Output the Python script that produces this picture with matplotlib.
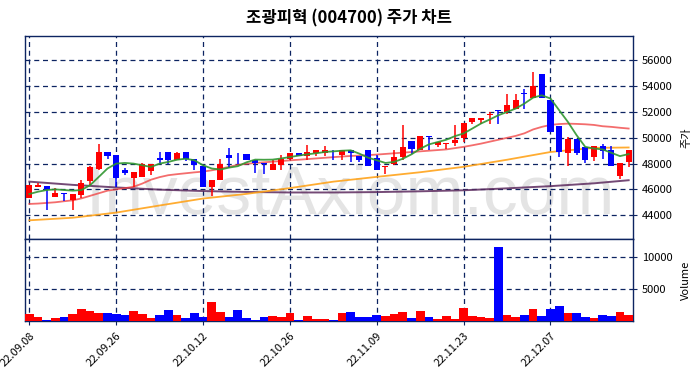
import numpy as np
import matplotlib
matplotlib.use("Agg")
import matplotlib.pyplot as plt

plt.rcParams['font.family'] = ['Noto Sans CJK KR', 'DejaVu Sans']

# trading days shown (22.09.08 ~ 22.12.20)
dates = ['22.09.08', '22.09.13', '22.09.14', '22.09.15', '22.09.16', '22.09.19', '22.09.20',
         '22.09.21', '22.09.22', '22.09.23', '22.09.26', '22.09.27', '22.09.28', '22.09.29',
         '22.09.30', '22.10.04', '22.10.05', '22.10.06', '22.10.07', '22.10.11', '22.10.12',
         '22.10.13', '22.10.14', '22.10.17', '22.10.18', '22.10.19', '22.10.20', '22.10.21',
         '22.10.24', '22.10.25', '22.10.26', '22.10.27', '22.10.28', '22.10.31', '22.11.01',
         '22.11.02', '22.11.03', '22.11.04', '22.11.07', '22.11.08', '22.11.09', '22.11.10',
         '22.11.11', '22.11.14', '22.11.15', '22.11.16', '22.11.17', '22.11.18', '22.11.21',
         '22.11.22', '22.11.23', '22.11.24', '22.11.25', '22.11.28', '22.11.29', '22.11.30',
         '22.12.01', '22.12.02', '22.12.05', '22.12.06', '22.12.07', '22.12.08', '22.12.09',
         '22.12.12', '22.12.13', '22.12.14', '22.12.15', '22.12.16', '22.12.19', '22.12.20']

opens = [45300, 46200, 46280, 45440, 45740, 45180, 45560, 46640, 47560, 48870,
         48670, 47510, 46920, 46970, 47440, 48460, 48900, 48310, 48900, 48380,
         47800, 46200, 46720, 48640, 48770, 48770, 48260, 48080, 47490, 47870,
         48380, 48850, 48590, 48850, 48850, 49080, 48640, 49030, 48560, 49030,
         48460, 47740, 48000, 48510, 49740, 49080, 50180, 49460, 49540, 49560,
         49950, 51240, 51420, 51750, 52140, 52010, 52270, 53510, 53120, 54930,
         52970, 50900, 48840, 49870, 49250, 48530, 49350, 49040, 47030, 48140]
highs = [46330, 46460, 46280, 46130, 45740, 45620, 46720, 47800, 49540, 48870,
         48670, 47670, 47360, 48050, 48000, 48900, 48900, 48900, 48900, 48380,
         47800, 46720, 48380, 49230, 48820, 48770, 48260, 48080, 48260, 48640,
         48850, 48850, 49410, 49030, 49330, 49080, 49030, 49030, 48560, 49030,
         48640, 47850, 49030, 51030, 49740, 50180, 50180, 49670, 49590, 50980,
         51160, 51500, 51570, 52010, 52140, 53430, 53430, 53820, 55110, 54930,
         52970, 50900, 50030, 49870, 49250, 49350, 49510, 49350, 48010, 49050]
lows = [45300, 46150, 44400, 45440, 45100, 44410, 45300, 46330, 47490, 48380,
        46200, 47150, 46200, 46970, 47100, 48000, 48000, 48310, 48200, 47540,
        46200, 45510, 46720, 47690, 48000, 48310, 47300, 47180, 47490, 47540,
        48310, 48590, 48310, 48560, 48560, 48310, 48310, 48130, 48130, 47800,
        47540, 47180, 47870, 48260, 48770, 49080, 49030, 49280, 49150, 49350,
        49690, 51060, 51060, 51110, 51060, 51880, 52270, 52270, 53120, 53120,
        50460, 48480, 47800, 48660, 48060, 48220, 48320, 47800, 46770, 47750]
closes = [46330, 46330, 45950, 45690, 45620, 45620, 46510, 47740, 48900, 48590,
          46920, 47280, 47360, 48000, 48000, 48310, 48310, 48850, 48360, 47920,
          46200, 46720, 48000, 48460, 48720, 48310, 48050, 48000, 48000, 48380,
          48850, 48590, 48900, 49030, 49080, 49030, 49030, 48820, 48310, 47800,
          47540, 47850, 48510, 49280, 49150, 50180, 50050, 49670, 49590, 49820,
          51160, 51500, 51570, 51880, 52060, 52580, 52920, 53430, 54000, 53120,
          50460, 48920, 49870, 48840, 48270, 49350, 48990, 47800, 48010, 49050]
volumes = [1094, 625, 260, 470, 625, 1094, 1875, 1560, 1250, 1250,
           1094, 940, 1560, 1094, 470, 940, 1720, 940, 470, 1250,
           625, 2970, 1400, 625, 1720, 470, 156, 625, 780, 625,
           1250, 156, 780, 310, 310, 156, 1250, 1400, 625, 625,
           940, 780, 1094, 1400, 470, 1560, 625, 310, 780, 310,
           2030, 780, 625, 470, 11560, 940, 625, 940, 1875, 780,
           1875, 2340, 1250, 1250, 625, 470, 940, 780, 1400, 940]

ma5 = [45640, 45820, 45950, 46000, 45950, 45900, 45950, 46330, 46970, 47620,
       48000, 48050, 48000, 47870, 47740, 48000, 48130, 48300, 48380, 48260,
       47870, 47620, 47540, 47690, 47800, 48100, 48310, 48300, 48310, 48400,
       48510, 48620, 48720, 48800, 48900, 48950, 49000, 49030, 48770, 48460,
       48260, 48050, 48130, 48380, 48720, 49150, 49490, 49670, 49850, 50130,
       50340, 50720, 51110, 51420, 51750, 52010, 52270, 52660, 53120, 53300,
       53050, 52140, 51240, 50210, 49300, 49170, 49100, 48840, 48580, 48740]
ma20 = [44870, 44900, 44950, 45000, 45080, 45150, 45300, 45500, 45700, 45900,
        46000, 46100, 46200, 46450, 46750, 46950, 47100, 47180, 47250, 47320,
        47380, 47480, 47600, 47750, 47900, 47980, 48050, 48100, 48150, 48200,
        48250, 48300, 48350, 48400, 48450, 48500, 48550, 48590, 48620, 48660,
        48700, 48750, 48800, 48850, 48900, 48950, 49000, 49050, 49100, 49200,
        49300, 49420, 49550, 49700, 49850, 50000, 50150, 50350, 50650, 50850,
        51000, 51070, 51100, 51080, 51050, 51000, 50900, 50850, 50780, 50720]
ma_long_x = [0, 5, 10, 15, 20, 25, 30, 35, 40, 45, 50, 55, 60, 65, 69]
ma60 = [43600, 43800, 44200, 44750, 45290, 45650, 46100, 46600, 46970, 47330,
        47750, 48300, 48900, 49220, 49250]
ma120 = [46600, 46350, 46150, 45980, 45870, 45800, 45760, 45760, 45790, 45850,
         45930, 46080, 46250, 46470, 46710]

tick_pos = [0, 10, 20, 30, 40, 50, 60]

UP = '#ff0000'
DOWN = '#0000ff'
GRID = '#0d2461'

x = np.arange(len(dates))
o = np.array(opens)
c = np.array(closes)
up = c >= o
colors = np.where(up, UP, DOWN)

fig = plt.figure(figsize=(6.98, 3.78), dpi=100)
W, H = 698.0, 378.0
ax = fig.add_axes([25 / W, (H - 239) / H, 608 / W, 203 / H])
axv = fig.add_axes([25 / W, (H - 321.3) / H, 608 / W, 82.3 / H], sharex=ax)

# watermark
ax.text(0.535, 0.125, 'InvestAxiom.com', transform=ax.transAxes, ha='center',
        va='baseline', fontsize=50, color='#e4e4e4', family='Liberation Sans', zorder=0)

# candles
ax.vlines(x, lows, highs, colors=colors, linewidth=1.1, zorder=3)
body_h = np.maximum(np.abs(c - o), 40)
ax.bar(x, body_h, bottom=np.minimum(o, c), width=0.7, color=colors, linewidth=0, zorder=4)

# moving averages
ax.plot(ma_long_x, ma120, color='#5c2a5e', linewidth=1.4, alpha=0.85, zorder=2)
ax.plot(ma_long_x, ma60, color='#ffa31a', linewidth=1.3, alpha=0.9, zorder=2)
ax.plot(x, ma20, color='#f03c3c', linewidth=1.3, alpha=0.75, zorder=2)
ax.plot(x, ma5, color='#2f962f', linewidth=1.3, alpha=0.9, zorder=5)

ax.set_xlim(-0.5, len(dates) - 0.5)
ax.set_ylim(42150, 57900)
ax.set_yticks(range(44000, 56001, 2000))
ax.yaxis.tick_right()
ax.yaxis.set_label_position('right')
ax.set_ylabel('주가', fontsize=8, labelpad=6)
ax.set_xticks(tick_pos)
ax.tick_params(axis='x', length=0, labelbottom=False)
ax.tick_params(axis='y', labelsize=8, length=3, color=GRID)

# volume
axv.bar(x, volumes, width=1.0, color=colors, linewidth=0, zorder=3)
axv.set_ylim(0, 12800)
axv.set_yticks([5000, 10000])
axv.yaxis.tick_right()
axv.yaxis.set_label_position('right')
axv.set_ylabel('Volume', fontsize=8, labelpad=6)
axv.set_xticks(tick_pos)
axv.set_xticklabels([dates[i] for i in tick_pos], rotation=45, ha='right',
                    rotation_mode='anchor', fontsize=8)
axv.tick_params(axis='y', labelsize=8, length=3, color=GRID)
axv.tick_params(axis='x', length=3, color=GRID)

for a in (ax, axv):
    a.grid(True, color=GRID, linestyle=(0, (4, 3)), linewidth=0.9, zorder=1)
    a.set_axisbelow(True)
    for s in a.spines.values():
        s.set_color(GRID)
        s.set_linewidth(1.0)

fig.text(0.5, 0.952, '조광피혁 (004700) 주가 차트', ha='center', va='center',
         fontsize=12, fontweight='bold')

fig.savefig('out.png', dpi=100)
